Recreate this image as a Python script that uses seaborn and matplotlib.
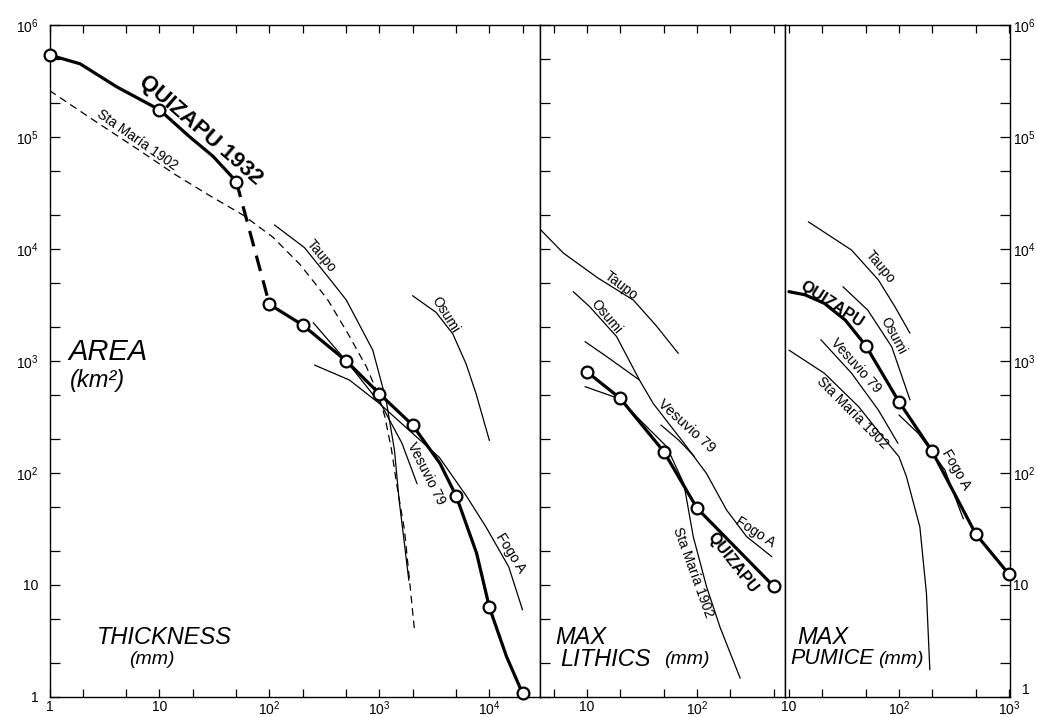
import numpy as np
import pandas as pd
import matplotlib
matplotlib.use("Agg")
import matplotlib.pyplot as plt
import seaborn as sns
from matplotlib.ticker import FixedLocator, FixedFormatter

# ---------------- data ----------------
# Panel 1 : THICKNESS (mm) vs AREA (km2)
quiz1_x = [1, 10, 50, 100, 200, 500, 1000, 2000, 5000, 10000, 20000]
quiz1_y = [5.4e5, 1.75e5, 4.0e4, 3.2e3, 2.1e3, 1.0e3, 510, 268, 62, 6.3, 1.08]
# the drawn curve (passes through the measured points)
quiz1_curve_a_x = [1, 1.9, 4.1, 10, 18.9, 30.8, 50]
quiz1_curve_a_y = [5.4e5, 4.5e5, 2.8e5, 1.75e5, 1.0e5, 6.7e4, 4.0e4]
quiz1_curve_b_x = [50, 100]
quiz1_curve_b_y = [4.0e4, 3.2e3]
quiz1_curve_c_x = [100, 200, 500, 1000, 2000, 3550, 5000, 7650, 10000, 14300, 20000]
quiz1_curve_c_y = [3.2e3, 2.1e3, 1.0e3, 510, 268, 122, 62, 19.2, 6.3, 2.3, 1.08]
stamaria1_x = [1, 2.3, 6.7, 14, 27, 58, 108, 189, 257, 340, 515, 760, 970, 1120, 1290, 1430, 1690, 2080]
stamaria1_y = [2.6e5, 1.5e5, 7.5e4, 4.6e4, 3.1e4, 2.0e4, 1.27e4, 7.3e3, 5.0e3, 3.5e3, 1.77e3, 890, 510, 320, 160, 81, 31, 4.0]
taupo1_x = [111, 208, 364, 500, 870, 1150, 1370, 1510, 1630, 1850]
taupo1_y = [1.64e4, 1.03e4, 5.2e3, 3.5e3, 1.25e3, 447, 160, 57, 31, 11]
osumi1_x = [2000, 3270, 4640, 6140, 7570, 8700, 10000]
osumi1_y = [3830, 2720, 1750, 942, 509, 315, 195]
vesuvio1_x = [250, 500, 1050, 1600, 2200]
vesuvio1_y = [2200, 1000, 400, 185, 80]
fogo1_x = [257, 534, 1000, 1870, 3500, 6200, 9300, 15000, 20000]
fogo1_y = [920, 676, 417, 240, 138, 62, 33, 14.5, 6.0]

# Panel 2 : MAX LITHICS (mm) vs AREA
quiz2_x = [10, 20, 50, 100, 500]
quiz2_y = [800, 465, 155, 48.5, 9.7]
taupo2_x = [3.8, 6.1, 12.6, 26.4, 42, 67.6]
taupo2_y = [1.48e4, 9.2e3, 5.5e3, 3.5e3, 2.1e3, 1.17e3]
osumi2_x = [7.5, 10.6, 18.6, 30]
osumi2_y = [4160, 3050, 1650, 676]
vesuvio2_x = [47, 68, 95]
vesuvio2_y = [268, 197, 140]
fogo2_x = [9.6, 15, 30, 40, 80.5, 122, 186, 283, 479]
fogo2_y = [1490, 1100, 676, 418, 172, 99, 46.6, 27, 17.9]
stamaria2_x = [9.6, 19.3, 21.4, 53, 76, 92.5, 122, 162, 247]
stamaria2_y = [590, 464, 418, 172, 80, 27, 9.7, 4.2, 1.47]

# Panel 3 : MAX PUMICE (mm) vs AREA
quiz3_line_x = [10, 14, 21, 32.5, 50, 100, 200, 500, 1000]
quiz3_line_y = [4160, 3900, 3270, 2320, 1370, 433, 157, 28.5, 12.5]
quiz3_x = [50, 100, 200, 500, 1000]
quiz3_y = [1370, 433, 157, 28.5, 12.5]
taupo3_x = [15, 37, 65, 92, 126]
taupo3_y = [1.75e4, 9.8e3, 5.3e3, 3.05e3, 1.77e3]
osumi3_x = [31, 52, 86, 126]
osumi3_y = [4600, 2850, 1340, 450]
vesuvio3_x = [19.5, 37, 65, 98]
vesuvio3_y = [1550, 780, 365, 184]
stamaria3_x = [10, 21, 43, 75, 100, 117, 155, 178, 191]
stamaria3_y = [1250, 777, 391, 197, 140, 93, 33, 8.4, 1.75]
fogo3_x = [100, 150, 262, 385]
fogo3_y = [330, 226, 106, 39]

# tick values / labels
y_ticks = [m * 10 ** e for e in range(0, 6) for m in (1, 2, 5)] + [1e6]
y_labels = ["1", "10", r"$10^2$", r"$10^3$", r"$10^4$", r"$10^5$", r"$10^6$"]
x1_ticks = [m * 10 ** e for e in range(0, 5) for m in (1, 2, 5)][:-1]
x1_labels = {1: "1", 10: "10", 100: r"$10^2$", 1000: r"$10^3$", 10000: r"$10^4$"}
x2_ticks = [5, 10, 20, 50, 100, 200, 500]
x2_labels = {10: "10", 100: r"$10^2$"}
x3_ticks = [10, 20, 50, 100, 200, 500, 1000]
x3_labels = {10: "10", 100: r"$10^2$", 1000: r"$10^3$"}

# ---------------- style ----------------
sns.set_style("ticks")
plt.rcParams["font.family"] = ["Liberation Sans", "DejaVu Sans"]
plt.rcParams["mathtext.fontset"] = "custom"
plt.rcParams["mathtext.rm"] = "Liberation Sans"
plt.rcParams["mathtext.it"] = "Liberation Sans:italic"
plt.rcParams["mathtext.bf"] = "Liberation Sans:bold"
plt.rcParams["mathtext.default"] = "regular"

W, H = 1037, 717
fig = plt.figure(figsize=(W / 100, H / 100), dpi=100)
fig.patch.set_facecolor("white")


def rect(x0, x1, y0=25, y1=697):
    return [x0 / W, 1 - y1 / H, (x1 - x0) / W, (y1 - y0) / H]


ax1 = fig.add_axes(rect(49.5, 540))
ax2 = fig.add_axes(rect(540, 785))
ax3 = fig.add_axes(rect(785, 1010))

THICK = 2.3
THIN = 0.9


def draw(ax, x, y, lw=THIN, ls="-"):
    df = pd.DataFrame({"x": x, "y": y})
    sns.lineplot(data=df, x="x", y="y", ax=ax, color="black", linewidth=lw,
                 linestyle=ls, estimator=None, sort=False, legend=False)


def marks(ax, x, y):
    df = pd.DataFrame({"x": x, "y": y})
    sns.scatterplot(data=df, x="x", y="y", ax=ax, s=72, color="white",
                    edgecolor="black", linewidth=1.6, zorder=6, clip_on=False,
                    legend=False)


for ax in (ax1, ax2, ax3):
    ax.set_xscale("log")
    ax.set_yscale("log")

# Panel 1
draw(ax1, stamaria1_x, stamaria1_y, ls=(0, (6, 4)))
draw(ax1, taupo1_x, taupo1_y)
draw(ax1, osumi1_x, osumi1_y)
draw(ax1, vesuvio1_x, vesuvio1_y)
draw(ax1, fogo1_x, fogo1_y)
draw(ax1, quiz1_curve_a_x, quiz1_curve_a_y, lw=THICK)
draw(ax1, quiz1_curve_b_x, quiz1_curve_b_y, lw=THICK, ls=(0, (5, 3)))
draw(ax1, quiz1_curve_c_x, quiz1_curve_c_y, lw=THICK)
marks(ax1, quiz1_x, quiz1_y)

# Panel 2
draw(ax2, taupo2_x, taupo2_y)
draw(ax2, osumi2_x, osumi2_y)
draw(ax2, vesuvio2_x, vesuvio2_y)
draw(ax2, fogo2_x, fogo2_y)
draw(ax2, stamaria2_x, stamaria2_y)
draw(ax2, quiz2_x, quiz2_y, lw=THICK)
marks(ax2, quiz2_x, quiz2_y)

# Panel 3
draw(ax3, taupo3_x, taupo3_y)
draw(ax3, osumi3_x, osumi3_y)
draw(ax3, vesuvio3_x, vesuvio3_y)
draw(ax3, stamaria3_x, stamaria3_y)
draw(ax3, fogo3_x, fogo3_y)
draw(ax3, quiz3_line_x, quiz3_line_y, lw=THICK)
marks(ax3, quiz3_x, quiz3_y)

# axes limits
ax1.set_xlim(1, 10 ** 4.46)
ax2.set_xlim(10 ** 0.573, 10 ** 2.8)
ax3.set_xlim(10 ** 0.964, 10 ** 3.01)
for ax in (ax1, ax2, ax3):
    ax.set_ylim(1, 1e6)
    ax.set_xlabel("")
    ax.set_ylabel("")
    for s in ax.spines.values():
        s.set_visible(True)
        s.set_linewidth(1.0)
        s.set_color("black")
    ax.minorticks_off()


def set_x(ax, ticks, labels):
    ax.xaxis.set_major_locator(FixedLocator(ticks))
    ax.xaxis.set_major_formatter(FixedFormatter([labels.get(t, "") for t in ticks]))
    ax.xaxis.set_minor_locator(FixedLocator([]))
    ax.tick_params(axis="x", which="both", direction="in", top=True, bottom=True,
                   length=6, width=0.9, labelsize=10, pad=2, colors="black")


def set_y(ax, left, right, labelleft, labelright, pad, skip_one=False):
    ax.yaxis.set_major_locator(FixedLocator(y_ticks))
    labs = []
    for t in y_ticks:
        e = int(round(np.log10(t)))
        lab = y_labels[e] if abs(t - 10 ** e) < 1e-9 * t else ""
        if skip_one and t == 1:
            lab = ""
        labs.append(lab)
    ax.yaxis.set_major_formatter(FixedFormatter(labs))
    ax.yaxis.set_minor_locator(FixedLocator([]))
    ax.tick_params(axis="y", which="both", direction="in", left=left, right=right,
                   labelleft=labelleft, labelright=labelright, length=7,
                   width=0.9, labelsize=10, pad=pad, colors="black")


set_x(ax1, x1_ticks, x1_labels)
set_x(ax2, x2_ticks, x2_labels)
set_x(ax3, x3_ticks, x3_labels)
set_y(ax1, True, False, True, False, 8)
set_y(ax2, True, False, False, False, 8)
set_y(ax3, False, True, False, True, 2, skip_one=True)


def T(s, x, y, rot=0, size=9, weight="normal", style="normal", ha="center", va="center"):
    fig.text(x / W, 1 - y / H, s, rotation=rot, fontsize=size, fontweight=weight,
             fontstyle=style, ha=ha, va=va, rotation_mode="anchor", color="black")


# right-hand "1" label, nudged clear of the bottom "10^3"
T("1", 1026, 690, 0, 10)

# curve labels panel 1
T("QUIZAPU 1932", 201, 130, -41, 16, "bold")
T("Sta María 1902", 137, 140, -35, 10)
T("Taupo", 321, 256, -50, 10)
T("Osumi", 445, 315, -58, 10)
T("Vesuvio 79", 426, 473, -63, 10)
T("Fogo A", 511, 553, -58, 10)
T("AREA", 68, 352, 0, 21, style="italic", ha="left")
T("(km²)", 70, 381, 0, 17, style="italic", ha="left")
T("THICKNESS", 97, 637, 0, 17, style="italic", ha="left")
T("(mm)", 129, 659, 0, 14, style="italic", ha="left")

# panel 2
T("Taupo", 621, 286, -37, 10)
T("Osumi", 606, 317, -50, 10)
T("Vesuvio 79", 686, 426, -42, 10.5)
T("Fogo A", 755, 532, -33, 10)
T("QUIZAPU", 733, 563, -52, 11.5, "bold")
T("Sta María 1902", 693, 572, -70, 10)
T("MAX", 555, 637, 0, 17, style="italic", ha="left")
T("LITHICS", 560, 659, 0, 17, style="italic", ha="left")
T("(mm)", 664, 659, 0, 14, style="italic", ha="left")

# panel 3
T("Taupo", 880, 267, -50, 10)
T("QUIZAPU", 832, 304, -33, 11.5, "bold")
T("Osumi", 893, 336, -62, 10)
T("Vesuvio 79", 856, 366, -48, 10)
T("Sta María 1902", 852, 413, -45, 10)
T("Fogo A", 956, 470, -60, 10)
T("MAX", 797, 637, 0, 17, style="italic", ha="left")
T("PUMICE", 790, 659, 0, 15.5, style="italic", ha="left")
T("(mm)", 878, 659, 0, 14, style="italic", ha="left")

fig.savefig("out.png", dpi=100, facecolor="white")
